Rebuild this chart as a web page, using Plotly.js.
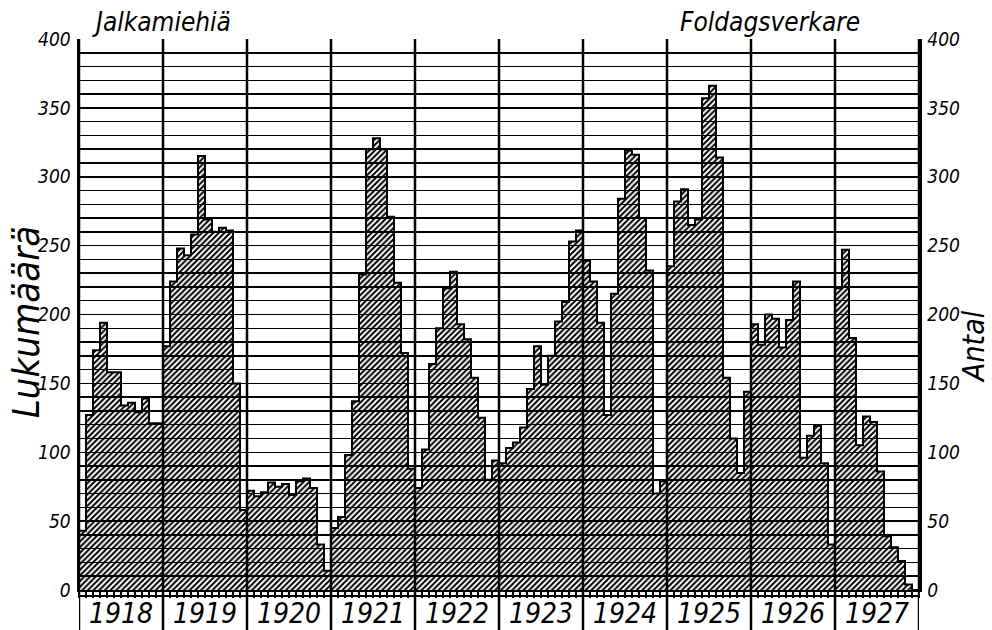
<!DOCTYPE html>
<html><head><meta charset="utf-8">
<script src="https://cdn.plot.ly/plotly-3.0.1.min.js"></script>
<style>html,body{margin:0;padding:0;background:#fff}#chart{width:992px;height:630px}</style>
</head><body><div id="chart"></div>
<script>
const years = ['1918','1919','1920','1921','1922','1923','1924','1925','1926','1927'];
const y1918 = [43, 127, 174, 194, 158, 158, 134, 136, 129, 139, 121, 121];
const y1919 = [177, 224, 248, 243, 258, 315, 269, 260, 263, 261, 150, 58];
const y1920 = [72, 68, 71, 78, 75, 77, 69, 79, 81, 74, 33, 14];
const y1921 = [45, 53, 98, 137, 229, 320, 328, 320, 271, 223, 172, 88];
const y1922 = [74, 102, 164, 190, 219, 231, 193, 182, 154, 125, 80, 94];
const y1923 = [92, 103, 107, 118, 146, 177, 149, 170, 195, 209, 253, 261];
const y1924 = [239, 224, 194, 127, 215, 284, 319, 316, 270, 232, 70, 79];
const y1925 = [235, 282, 291, 265, 269, 357, 366, 314, 154, 110, 85, 144];
const y1926 = [193, 178, 200, 197, 176, 196, 224, 96, 112, 119, 92, 33];
const y1927 = [219, 247, 183, 105, 126, 122, 86, 39, 31, 21, 4, 0];
const yTickVals = [0, 50, 100, 150, 200, 250, 300, 350, 400];
const gridVals = [0,10,20,30,40,50,60,70,80,90,100,110,120,130,140,150,160,170,180,190,200,210,220,230,240,250,260,270,280,290,300,310,320,330,340,350,360,370,380,390,400];
const leftTitle = 'Jalkamiehiä';
const rightTitle = 'Foldagsverkare';
const leftAxisTitle = 'Lukumäärä';
const rightAxisTitle = 'Antal';

const monthly = [].concat(y1918, y1919, y1920, y1921, y1922, y1923, y1924, y1925, y1926, y1927);
const idx = monthly.map((_, i) => i);
const nM = monthly.length;
const perYear = 12;
const yearCenters = years.map((_, k) => k * perYear + (perYear - 1) / 2);
const yearEdges = [];
for (let k = 0; k <= years.length; k++) yearEdges.push(k * perYear - 0.5);
const monthEdges = idx.map(i => i - 0.5).concat([nM - 0.5]);

const FONT = 'DejaVu Sans Condensed, DejaVu Sans, sans-serif';
const hand = (size) => ({family: FONT, size: size, color: 'black', style: 'italic'});

const outlineX = [-0.5].concat(idx, [nM - 0.5]);
const outlineY = [monthly[0]].concat(monthly, [monthly[nM - 1]]);

const traces = [
  {type: 'bar', x: idx, y: monthly, width: 1,
   marker: {color: 'black', line: {width: 0}, pattern: {shape: '/', size: 4, solidity: 0.5}},
   hoverinfo: 'skip'},
  {type: 'scatter', mode: 'lines', x: outlineX, y: outlineY, xaxis: 'x', yaxis: 'y2',
   line: {color: 'black', width: 2, shape: 'hvh'}, hoverinfo: 'skip'}
];

const H = 551;
const bottomDrop = -40 / H;
const shapes = yearEdges.map(e => ({type: 'line', xref: 'x', yref: 'paper', x0: e, x1: e, y0: bottomDrop, y1: 1,
  line: {color: 'black', width: 2.5}, layer: 'above'}));
shapes.push({type: 'line', xref: 'paper', yref: 'paper', x0: 0, x1: 1, y0: -6 / H, y1: -6 / H,
  line: {color: 'black', width: 2}, layer: 'above'});

const yearAnnots = years.map((t, k) => ({text: t, xref: 'x', yref: 'paper', x: yearCenters[k], y: -23 / H,
  xanchor: 'center', yanchor: 'middle', showarrow: false, font: hand(28)}));

const layout = {
  width: 992, height: 630,
  margin: {l: 79, r: 73, t: 39, b: 40, pad: 0},
  paper_bgcolor: 'white', plot_bgcolor: 'white',
  showlegend: false, hovermode: false, bargap: 0,
  xaxis: {range: [-0.5, nM - 0.5], showline: true, linewidth: 2, linecolor: 'black',
    showgrid: false, zeroline: false, tickmode: 'array', tickvals: monthEdges,
    ticktext: monthEdges.map(() => ''), ticks: 'outside', ticklen: 6, tickwidth: 2, tickcolor: 'black'},
  yaxis: {range: [0, 400], showline: true, linewidth: 2.5, linecolor: 'black', zeroline: false,
    tickmode: 'array', tickvals: yTickVals, ticks: '', tickfont: hand(19), ticklabelstandoff: 2,
    showgrid: true, gridcolor: 'black', gridwidth: 1.5,
    minor: {tickmode: 'array', tickvals: gridVals, showgrid: true, gridcolor: 'black', gridwidth: 1.5, ticks: ''}},
  yaxis2: {range: [0, 400], overlaying: 'y', side: 'right', showline: true, linewidth: 2.5, linecolor: 'black',
    zeroline: false, tickmode: 'array', tickvals: yTickVals, ticks: '', tickfont: hand(19), ticklabelstandoff: 2,
    showgrid: false},
  shapes: shapes,
  annotations: yearAnnots.concat([
    {text: leftTitle, xref: 'paper', yref: 'paper', x: 11 / 840, y: 1.0, xanchor: 'left', yanchor: 'bottom',
     showarrow: false, font: hand(26)},
    {text: rightTitle, xref: 'paper', yref: 'paper', x: 599 / 840, y: 1.0, xanchor: 'left', yanchor: 'bottom',
     showarrow: false, font: hand(26)},
    {text: leftAxisTitle, xref: 'paper', yref: 'paper', x: -53 / 840, y: 0.486, xanchor: 'center', yanchor: 'middle',
     textangle: -90, showarrow: false, font: hand(38)},
    {text: rightAxisTitle, xref: 'paper', yref: 'paper', x: 894 / 840, y: 0.441, xanchor: 'center', yanchor: 'middle',
     textangle: -90, showarrow: false, font: hand(30)}
  ])
};

Plotly.newPlot('chart', traces, layout, {staticPlot: true, displayModeBar: false});
</script></body></html>
